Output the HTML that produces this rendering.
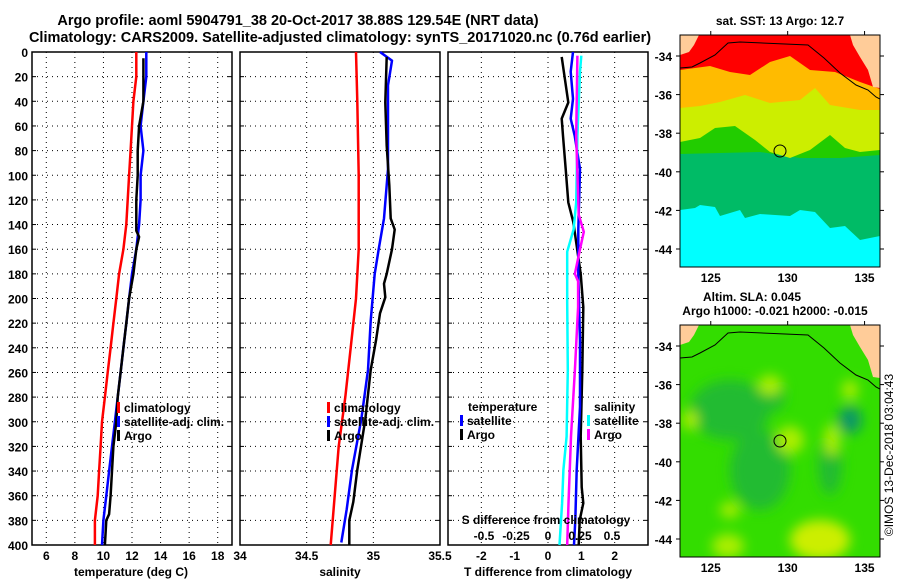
<!DOCTYPE html>
<html><head><meta charset="utf-8"><style>
body{margin:0;background:#fff;}
svg{display:block;font-family:"Liberation Sans",sans-serif;font-weight:bold;}
</style></head><body>
<svg id="c" width="900" height="580" viewBox="0 0 900 580">
<defs>
<filter id="bl" x="-50%" y="-50%" width="200%" height="200%"><feGaussianBlur stdDeviation="6"/></filter>
<clipPath id="m1"><rect x="680" y="35" width="200" height="232"/></clipPath>
<clipPath id="m2"><rect x="680" y="325" width="200" height="232"/></clipPath>
</defs>
<text x="298" y="25" font-size="14.5" text-anchor="middle">Argo profile: aoml 5904791_38 20-Oct-2017 38.88S 129.54E (NRT data)</text>
<text x="340" y="42" font-size="14.5" text-anchor="middle">Climatology: CARS2009. Satellite-adjusted climatology: synTS_20171020.nc (0.76d earlier)</text>
<g id="panels"></g>
<g id="maps"></g>
</svg>
<script>
const NS="http://www.w3.org/2000/svg";
const svg=document.getElementById('c');
// ---- data ----
const depthTicks=[0,20,40,60,80,100,120,140,160,180,200,220,240,260,280,300,320,340,360,380,400];
const tempTicks=[6,8,10,12,14,16,18];
const salTicks=[34,34.5,35,35.5];
const tdTicks=[-2,-1,0,1,2];
const sdTicks=[-0.5,-0.25,0,0.25,0.5];
const sdTickLabels=["-0.5","-0.25","0","0.25","0.5"];
const tClimDepth=[0,20,40,60,80,100,140,160,180,200,220,240,260,280,300,320,340,360,380,400];
const tClimVal=[12.3,12.3,12.1,12.0,11.9,11.8,11.6,11.4,11.1,10.9,10.7,10.5,10.3,10.1,9.9,9.8,9.7,9.6,9.4,9.4];
const tSatDepth=[0,20,40,60,80,100,120,140,160,180,200,220,240,260,280,300,320,340,360,380,400];
const tSatVal=[13.0,13.0,12.8,12.6,12.8,12.6,12.6,12.5,12.3,12.0,11.8,11.6,11.4,11.2,11.0,10.8,10.6,10.4,10.2,10.0,9.9];
const tArgoDepth=[5,20,40,60,80,100,120,145,150,160,180,200,220,240,260,280,300,320,340,360,375,380,400];
const tArgoVal=[12.8,12.8,12.8,12.5,12.4,12.4,12.3,12.3,12.5,12.3,12.1,11.8,11.6,11.4,11.2,11.0,10.9,10.7,10.6,10.5,10.4,10.2,10.1];
const sClimDepth=[0,40,100,160,200,240,280,320,360,400];
const sClimVal=[34.87,34.88,34.89,34.89,34.87,34.83,34.79,34.74,34.71,34.68];
const sSatDepth=[0,7,27,95,135,160,180,218,258,298,339,371,398];
const sSatVal=[35.05,35.14,35.11,35.11,35.08,35.04,35.01,34.98,34.96,34.91,34.84,34.80,34.76];
const sArgoDepth=[4,41,76,108,135,144,160,180,188,199,212,234,258,298,339,365,380,400];
const sArgoVal=[35.10,35.09,35.10,35.12,35.13,35.16,35.14,35.10,35.08,35.09,35.05,35.02,34.98,34.94,34.88,34.85,34.82,34.82];
const dTArgoDepth=[4,41,54,68,95,122,138,180,207,258,312,353,366,380,400];
const dTArgoVal=[0.41,0.61,0.41,0.45,0.53,0.61,0.76,0.98,1.06,1.03,0.98,1.01,1.06,0.95,0.92];
const dTSatDepth=[0,16,38,54,68,95,144,180,234,288,339,380,400];
const dTSatVal=[0.75,0.68,0.75,0.68,0.8,0.96,0.91,0.91,0.96,0.96,0.86,0.82,0.78];
const dSSatDepth=[3,16,68,122,144,162,203,258,312,339,366,400];
const dSSatVal=[0.26,0.25,0.23,0.22,0.2,0.15,0.15,0.155,0.145,0.12,0.11,0.09];
const dSArgoDepth=[3,68,132,146,160,180,186,207,258,312,366,400];
const dSArgoVal=[0.23,0.22,0.24,0.28,0.25,0.21,0.235,0.235,0.21,0.18,0.16,0.15];
// ---- axes ----
const Y0=52,Y1=545;
const yD=d=>Y0+(d/400)*(Y1-Y0);
const xT=v=>32+(v-5)*200/14;
const xS=v=>240+(v-34)*200/1.5;
const xDT=v=>548+v*200/6;
const xDS=v=>548+v*128;
function el(tag,attrs,parent,text){const e=document.createElementNS(NS,tag);for(const k in attrs)e.setAttribute(k,attrs[k]);if(text!=null)e.textContent=text;(parent||svg).appendChild(e);return e;}
const P=document.getElementById('panels');
function panel(x0,name,vticks,xf){
  const g=el('g',{},P);
  
  
  depthTicks.forEach(d=>{if(d>0&&d<400){const l=el('line',{x1:x0,x2:x0+200,y1:yD(d),y2:yD(d),stroke:'#000','stroke-width':1,'stroke-dasharray':'1 4'},g);
    }
    el('line',{x1:x0,x2:x0+4,y1:yD(d),y2:yD(d),stroke:'#000'},g);
    el('line',{x1:x0+196,x2:x0+200,y1:yD(d),y2:yD(d),stroke:'#000'},g);});
  vticks.forEach(v=>{const x=xf(v);if(x>x0+1&&x<x0+199){const l=el('line',{x1:x,x2:x,y1:Y0,y2:Y1,stroke:'#000','stroke-width':1,'stroke-dasharray':'1 4'},g);
    }});
  const r=el('rect',{x:x0,y:Y0,width:200,height:Y1-Y0,fill:'none',stroke:'#000','stroke-width':1.5},g);
  
  return g;
}
function line(g,depths,vals,xf,color,name,w){
  const pts=depths.map((d,i)=>xf(vals[i]).toFixed(1)+','+yD(d).toFixed(1)).join(' ');
  const p=el('polyline',{points:pts,fill:'none',stroke:color,'stroke-width':w||2.5,'stroke-linejoin':'round'},g);
  
  
}
function legendEntry(g,x,y,color,label){
  el('rect',{x:x,y:y-10,width:3,height:11,fill:color},g);
  const t=el('text',{x:x+7,y:y,'font-size':12},g,label);
  
  
}
// Panel 1 temperature
const g1=panel(32,'temperature-panel',tempTicks,xT);
depthTicks.forEach(d=>{const t=el('text',{x:28,y:yD(d)+5,'font-size':12,'text-anchor':'end'},g1,String(d));
  });
tempTicks.forEach(v=>{const t=el('text',{x:xT(v),y:560,'font-size':12,'text-anchor':'middle'},g1,String(v));
  });
line(g1,tClimDepth,tClimVal,xT,'#f00','temp-climatology-line');
line(g1,tSatDepth,tSatVal,xT,'#00f','temp-satellite-line');
line(g1,tArgoDepth,tArgoVal,xT,'#000','temp-argo-line');
legendEntry(g1,117,412,'#f00','climatology');
legendEntry(g1,117,426,'#00f','satellite-adj. clim.');
legendEntry(g1,117,440,'#000','Argo');
let tt=el('text',{x:131,y:576,'font-size':12,'text-anchor':'middle'},g1,'temperature (deg C)');

// Panel 2 salinity
const g2=panel(240,'salinity-panel',salTicks,xS);
salTicks.forEach(v=>{const t=el('text',{x:xS(v),y:560,'font-size':12,'text-anchor':'middle'},g2,String(v));
  });
line(g2,sClimDepth,sClimVal,xS,'#f00','sal-climatology-line');
line(g2,sSatDepth,sSatVal,xS,'#00f','sal-satellite-line');
line(g2,sArgoDepth,sArgoVal,xS,'#000','sal-argo-line');
legendEntry(g2,327,412,'#f00','climatology');
legendEntry(g2,327,426,'#00f','satellite-adj. clim.');
legendEntry(g2,327,440,'#000','Argo');
tt=el('text',{x:340,y:576,'font-size':12,'text-anchor':'middle'},g2,'salinity');

// Panel 3 differences
const g3=panel(448,'difference-panel',tdTicks,xDT);
tdTicks.forEach(v=>{const t=el('text',{x:xDT(v),y:560,'font-size':12,'text-anchor':'middle'},g3,String(v));
  });
line(g3,dTArgoDepth,dTArgoVal,xDT,'#000','tdiff-argo-line');
line(g3,dTSatDepth,dTSatVal,xDT,'#00f','tdiff-satellite-line');
line(g3,dSSatDepth,dSSatVal,xDS,'#0ff','sdiff-satellite-line');
line(g3,dSArgoDepth,dSArgoVal,xDS,'#f0f','sdiff-argo-line');
tt=el('text',{x:468,y:411,'font-size':12},g3,'temperature');

legendEntry(g3,460,425,'#00f','satellite');
legendEntry(g3,460,439,'#000','Argo');
tt=el('text',{x:594,y:411,'font-size':12},g3,'salinity');

legendEntry(g3,587,425,'#0ff','satellite');
legendEntry(g3,587,439,'#f0f','Argo');
tt=el('text',{x:546,y:524,'font-size':12,'text-anchor':'middle'},g3,'S difference from climatology');

sdTicks.forEach((v,i)=>{const t=el('text',{x:xDS(v),y:540,'font-size':12,'text-anchor':'middle'},g3,sdTickLabels[i]);
  });
tt=el('text',{x:548,y:576,'font-size':12,'text-anchor':'middle'},g3,'T difference from climatology');

// ---- maps ----
const M=document.getElementById('maps');
const mlx=lon=>680+(lon-123)*15.38;
function mapAxes(g,top){
  const my=lat=>top+21+(-34-lat)*19.3;
  [-34,-36,-38,-40,-42,-44].forEach(l=>{const t=el('text',{x:672,y:my(l)+5,'font-size':12,'text-anchor':'end'},g,String(l));
    
    el('line',{x1:880,x2:884,y1:my(l),y2:my(l),stroke:'#000'},g);el('line',{x1:676,x2:680,y1:my(l),y2:my(l),stroke:'#000'},g);});
  [125,130,135].forEach(l=>{const t=el('text',{x:mlx(l),y:top+247,'font-size':12,'text-anchor':'middle'},g,String(l));
    
    el('line',{x1:mlx(l),x2:mlx(l),y1:top-4,y2:top,stroke:'#000'},g);});
}
function land(g,top){
  el('path',{d:`M680 ${top} L699 ${top} L694 ${top+10} L689 ${top+17} L680 ${top+20}Z`,fill:'#ffcc99'},g);
  el('path',{d:`M850 ${top} L880 ${top} L880 ${top+53} L873 ${top+52} L868 ${top+35} L860 ${top+22} L853 ${top+10}Z`,fill:'#ffcc99'},g);
  el('path',{d:`M680 ${top+33} L692 ${top+32} L700 ${top+28} L715 ${top+20} L728 ${top+8} L740 ${top+7} L808 ${top+10} L824 ${top+23} L840 ${top+38} L856 ${top+50} L868 ${top+55} L876 ${top+62} L880 ${top+64}`,fill:'none',stroke:'#000','stroke-width':1},g);
}
// top map (SST)
const mg1=el('g',{'clip-path':'url(#m1)'},M);


el('rect',{x:680,y:35,width:200,height:232,fill:'#00ffff'},mg1);
el('path',{d:'M680 210 L695 208 L700 205 L715 207 L720 216 L740 210 L745 218 L760 214 L790 216 L800 210 L815 212 L830 228 L845 226 L860 240 L880 236 L880 35 L680 35Z',fill:'#00bb66'},mg1);
el('path',{d:'M680 154 L720 153 L760 152 L800 158 L840 158 L880 155 L880 35 L680 35Z',fill:'#22cc00'},mg1);
el('path',{d:'M680 142 L700 138 L715 128 L735 126 L755 140 L770 152 L790 158 L810 150 L830 135 L845 148 L860 152 L880 150 L880 35 L680 35Z',fill:'#ccee00'},mg1);
el('path',{d:'M680 108 L700 106 L720 102 L745 95 L770 103 L800 100 L815 88 L830 105 L860 110 L880 110 L880 35 L680 35Z',fill:'#ffbb00'},mg1);
el('path',{d:'M680 70 L710 66 L730 72 L750 75 L770 62 L790 56 L810 70 L835 72 L860 82 L880 89 L880 35 L680 35Z',fill:'#ff0000'},mg1);
land(mg1,35);
let c1=el('circle',{cx:780,cy:151,r:6,fill:'none',stroke:'#000','stroke-width':1},mg1);

el('rect',{x:680,y:35,width:200,height:232,fill:'none',stroke:'#000'},M);
mapAxes(M,35);
tt=el('text',{x:780,y:25,'font-size':12,'text-anchor':'middle'},M,'sat. SST: 13 Argo: 12.7');

// bottom map (SLA)
const mg2=el('g',{'clip-path':'url(#m2)'},M);


el('rect',{x:680,y:325,width:200,height:232,fill:'#33dd00'},mg2);
const blobs=el('g',{filter:'url(#bl)'},mg2);
[[730,410,40,30,'#22bb33'],[850,420,12,14,'#119966'],[775,395,10,16,'#22bb33'],[760,470,30,40,'#22bb33'],[830,465,12,30,'#22bb33'],
 [770,385,12,10,'#aaee00'],[832,440,8,16,'#aaee00'],[790,440,14,14,'#aaee00'],[728,546,16,12,'#aaee00'],[820,540,30,20,'#ccee00'],[730,510,10,8,'#aaee00'],[690,420,8,10,'#aaee00'],[850,390,8,10,'#aaee00']]
 .forEach(b=>el('ellipse',{cx:b[0],cy:b[1],rx:b[2],ry:b[3],fill:b[4]},blobs));
land(mg2,325);
let c2=el('circle',{cx:780,cy:441,r:6,fill:'none',stroke:'#000','stroke-width':1},mg2);

el('rect',{x:680,y:325,width:200,height:232,fill:'none',stroke:'#000'},M);
mapAxes(M,325);
tt=el('text',{x:752,y:301,'font-size':12,'text-anchor':'middle'},M,'Altim. SLA: 0.045');

tt=el('text',{x:775,y:315,'font-size':12,'text-anchor':'middle'},M,'Argo h1000: -0.021 h2000: -0.015');

tt=el('text',{x:0,y:0,'font-size':12,'font-weight':'normal','text-anchor':'middle',transform:'translate(893,455) rotate(-90)'},M,'©IMOS 13-Dec-2018 03:04:43');

</script>
</body></html>
